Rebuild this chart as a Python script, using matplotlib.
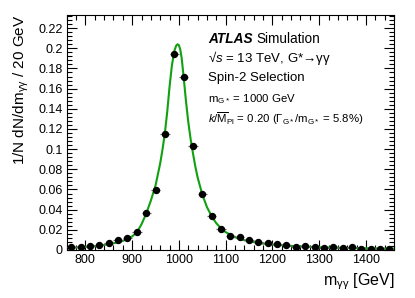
import numpy as np
import matplotlib
matplotlib.use("Agg")
import matplotlib.pyplot as plt
from matplotlib.ticker import MultipleLocator

plt.rcParams['font.family'] = ['Liberation Sans', 'DejaVu Sans']
plt.rcParams['mathtext.fontset'] = 'custom'
plt.rcParams['mathtext.rm'] = 'Liberation Sans'
plt.rcParams['mathtext.it'] = 'Liberation Sans:italic'
plt.rcParams['mathtext.bf'] = 'Liberation Sans:bold'

# Data points (bin centres, normalised yields)
mass = [770, 790, 810, 830, 850, 870, 890, 910, 930, 950, 970, 990, 1010, 1030,
        1050, 1070, 1090, 1110, 1130, 1150, 1170, 1190, 1210, 1230, 1250, 1270,
        1290, 1310, 1330, 1350, 1370, 1390, 1410, 1430, 1450]
yields = [0.0027, 0.0025, 0.0037, 0.0046, 0.0069, 0.0096, 0.0122, 0.0175, 0.0367,
          0.0595, 0.115, 0.194, 0.172, 0.103, 0.056, 0.0337, 0.0210, 0.0136,
          0.0126, 0.0096, 0.0076, 0.0073, 0.0056, 0.0046, 0.0033, 0.0043, 0.0033,
          0.0017, 0.0027, 0.0023, 0.0027, 0.0013, 0.0013, 0.0013, 0.0013]
yerr = [0.0004, 0.0004, 0.0005, 0.0005, 0.0006, 0.0007, 0.0008, 0.0009, 0.0013,
        0.0016, 0.0022, 0.0029, 0.0027, 0.0021, 0.0015, 0.0012, 0.0009, 0.0008,
        0.0007, 0.0006, 0.0006, 0.0005, 0.0005, 0.0004, 0.0004, 0.0004, 0.0004,
        0.0003, 0.0003, 0.0003, 0.0003, 0.0002, 0.0002, 0.0002, 0.0002]

# Signal shape curve
curve_x = [760, 780, 800, 820, 840, 860, 880, 900, 910, 920, 930, 940, 950, 960,
           965, 970, 975, 980, 985, 990, 994, 997, 1000, 1003, 1006, 1010, 1015,
           1020, 1025, 1030, 1035, 1040, 1050, 1060, 1070, 1080, 1090, 1100, 1120,
           1140, 1160, 1180, 1200, 1250, 1300, 1350, 1400, 1460]
curve_y = [0.0020, 0.0025, 0.0031, 0.0039, 0.0050, 0.0066, 0.0090, 0.0135, 0.0175,
           0.0255, 0.0360, 0.0490, 0.0640, 0.0860, 0.1000, 0.1160, 0.1370, 0.1620,
           0.1830, 0.1970, 0.2025, 0.2040, 0.2030, 0.1985, 0.1900, 0.1720, 0.1480,
           0.1270, 0.1100, 0.0960, 0.0830, 0.0720, 0.0550, 0.0425, 0.0335, 0.0265,
           0.0215, 0.0177, 0.0127, 0.0097, 0.0078, 0.0064, 0.0054, 0.0037, 0.0027,
           0.0021, 0.0017, 0.0013]

fig = plt.figure(figsize=(4.15, 2.98), dpi=100)
ax = fig.add_axes([66.7 / 415, 1 - 250 / 298, (394 - 66.7) / 415, (250 - 15) / 298])

ax.plot(curve_x, curve_y, color='#10a010', lw=1.5, zorder=2)
ax.errorbar(mass, yields, xerr=10, yerr=yerr, fmt='o', color='black', ms=4.3,
            ecolor='#666666', elinewidth=0.9, capsize=0, zorder=3)

ax.set_xlim(760, 1460)
ax.set_ylim(0, 0.233)
ax.xaxis.set_major_locator(MultipleLocator(100))
ax.xaxis.set_minor_locator(MultipleLocator(20))
ax.yaxis.set_major_locator(MultipleLocator(0.02))
ax.yaxis.set_minor_locator(MultipleLocator(0.004))
ax.set_yticks([0, 0.02, 0.04, 0.06, 0.08, 0.1, 0.12, 0.14, 0.16, 0.18, 0.2, 0.22])
ax.set_yticklabels(['0', '0.02', '0.04', '0.06', '0.08', '0.1', '0.12', '0.14',
                    '0.16', '0.18', '0.2', '0.22'])
ax.tick_params(which='both', direction='in', top=True, right=True, labelsize=9,
               width=0.8, colors='black')
ax.tick_params(which='major', length=7.5, pad=3)
ax.tick_params(which='minor', length=3.8)
for s in ax.spines.values():
    s.set_linewidth(0.8)

ax.set_xlabel(r'm$_{\mathrm{γγ}}$ [GeV]', fontsize=11.5, loc='right', labelpad=4)
ax.set_ylabel(r'1/N dN/dm$_{\mathrm{γγ}}$ / 20 GeV', fontsize=11, loc='top', labelpad=5)

tx = (208 - 66.7) / (394 - 66.7)
def ypos(py):
    return (250 - py) / 235.0

ax.text(tx, ypos(39), 'ATLAS', transform=ax.transAxes, fontsize=9.8,
        fontweight='bold', fontstyle='italic', va='center', ha='left')
ax.text(tx + 0.148, ypos(39), 'Simulation', transform=ax.transAxes, fontsize=9.8,
        va='center', ha='left')
ax.text(tx, ypos(58), r'√$s$ = 13 TeV, G*→γγ', transform=ax.transAxes,
        fontsize=9.5, va='center', ha='left')
ax.text(tx, ypos(78), 'Spin-2 Selection', transform=ax.transAxes, fontsize=9.5,
        va='center', ha='left')
ax.text(tx, ypos(99), r'm$_{\mathrm{G*}}$ = 1000 GeV', transform=ax.transAxes,
        fontsize=8.2, va='center', ha='left')
ax.text(tx, ypos(119),
        r'$k/\overline{\mathrm{M}}_{\mathrm{Pl}}$ = 0.20 (Γ$_{\mathrm{G*}}$/m$_{\mathrm{G*}}$ = 5.8%)',
        transform=ax.transAxes, fontsize=8.2, va='center', ha='left')

fig.savefig('out.png', dpi=100)
